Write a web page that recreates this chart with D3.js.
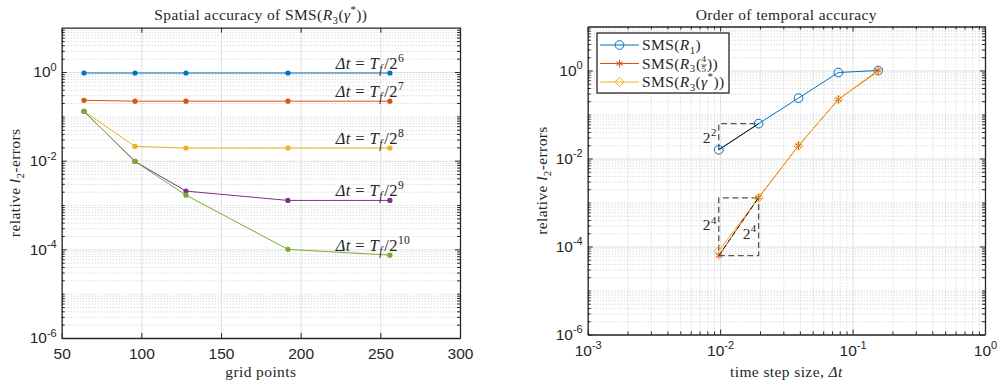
<!DOCTYPE html>
<html>
<head>
<meta charset="utf-8">
<script src="https://cdn.jsdelivr.net/npm/d3@7"></script>
<style>
  body { margin: 0; background: #fff; }
  svg text { fill: #262626; }
  .tick text { font-family: "Liberation Sans", Arial, sans-serif; font-size: 15.5px; }
  .serif { font-family: "Liberation Serif", "DejaVu Serif", serif; letter-spacing: 0.4px; }
</style>
</head>
<body>
<svg id="fig" width="1000" height="384"></svg>
<script>
// ---- left panel: spatial accuracy ----
var gridPts = [64, 96, 128, 192, 256];
var dtExps = ['6', '7', '8', '9', '10'];
var errDt6 = [0.95, 0.95, 0.95, 0.95, 0.95];
var errDt7 = [0.23, 0.22, 0.22, 0.22, 0.22];
var errDt8 = [0.13, 0.021, 0.0193, 0.0193, 0.0193];
var errDt9 = [0.13, 0.0096, 0.00206, 0.00127, 0.00127];
var errDt10 = [0.13, 0.0096, 0.00167, 0.0001, 0.000074];
var xTicksL = [50, 100, 150, 200, 250, 300];
var yTickExps = [-6, -4, -2, 0];

// ---- right panel: temporal accuracy ----
var dtVals = [0.009766, 0.01953, 0.03906, 0.078125, 0.15625];
var errR1 = [0.0158, 0.062, 0.236, 0.90, 1.0];
var errR3a = [0.000062, 0.0013, 0.0195, 0.22, 1.0];
var errR3g = [0.00008, 0.00127, 0.0193, 0.22, 0.95];
var xTickExpsR = [-3, -2, -1, 0];

var colors = ['#0072BD', '#D95319', '#EDB120', '#7E2F8E', '#77AC30'];
var svg = d3.select('#fig');

// minor values for log axes
function logMinor(e0, e1) {
    var out = [];
    for (var e = e0; e < e1; e++) {
        for (var k = 1; k < 10; k++) out.push(k * Math.pow(10, e));
    }
    return out;
}

// rich text with italic / sub / sup parts
function rich(t, parts, fs) {
    var off = 0;
    parts.forEach(function (p) {
        var target = p.sup ? -fs * 0.42 : p.sub ? fs * 0.25 : 0;
        var s = t.append('tspan').attr('dy', target - off).text(p.t);
        if (p.dx) s.attr('dx', p.dx);
        if (p.id) s.attr('id', p.id);
        off = target;
        if (p.i) s.attr('font-style', 'italic');
        if (p.sup || p.sub) s.attr('font-size', p.fs || fs * 0.7);
    });
    return t;
}

function powLabels(axisG, fmt) {
    axisG.selectAll('.tick text').each(function (d) {
        var t = d3.select(this).text(null);
        t.append('tspan').text('10');
        t.append('tspan').attr('dy', -6.5).attr('font-size', 11).text(fmt(d));
    });
}

function grids(g, x, y, opt) {
    var L = x.range()[0], R = x.range()[1], B = y.range()[0], T = y.range()[1];
    function draw(axis, tr, minor) {
        var a = g.append('g').attr('transform', tr).call(axis);
        a.select('.domain').remove();
        a.selectAll('line')
            .attr('stroke', minor ? '#cdcdcd' : '#e0e0e0')
            .attr('stroke-width', 1)
            .attr('stroke-dasharray', minor ? '1,2' : null);
    }
    draw(d3.axisLeft(y).tickValues(opt.yMinor).tickSize(-(R - L)).tickFormat(''), 'translate(' + L + ',0)', true);
    if (opt.xMinor) draw(d3.axisBottom(x).tickValues(opt.xMinor).tickSize(-(B - T)).tickFormat(''), 'translate(0,' + B + ')', true);
    draw(d3.axisLeft(y).tickValues(opt.yTicks).tickSize(-(R - L)).tickFormat(''), 'translate(' + L + ',0)', false);
    draw(d3.axisBottom(x).tickValues(opt.xTicks).tickSize(-(B - T)).tickFormat(''), 'translate(0,' + B + ')', false);
}

function frame(g, x, y, opt) {
    var L = x.range()[0], R = x.range()[1], B = y.range()[0], T = y.range()[1];
    var bot = g.append('g').attr('transform', 'translate(0,' + B + ')')
        .call(d3.axisBottom(x).tickValues(opt.xTicks).tickSizeInner(-5).tickSizeOuter(0).tickPadding(10));
    var left = g.append('g').attr('transform', 'translate(' + L + ',0)')
        .call(d3.axisLeft(y).tickValues(opt.yTicks).tickSizeInner(-5).tickSizeOuter(0).tickPadding(5));
    var top = g.append('g').attr('transform', 'translate(0,' + T + ')')
        .call(d3.axisTop(x).tickValues(opt.xTicks).tickSizeInner(-5).tickSizeOuter(0).tickFormat(''));
    var right = g.append('g').attr('transform', 'translate(' + R + ',0)')
        .call(d3.axisRight(y).tickValues(opt.yTicks).tickSizeInner(-5).tickSizeOuter(0).tickFormat(''));
    // minor ticks
    var mins = [];
    mins.push(g.append('g').attr('transform', 'translate(' + L + ',0)').call(d3.axisLeft(y).tickValues(opt.yMinor).tickSize(-3).tickFormat('')));
    mins.push(g.append('g').attr('transform', 'translate(' + R + ',0)').call(d3.axisRight(y).tickValues(opt.yMinor).tickSize(-3).tickFormat('')));
    if (opt.xMinor) {
        mins.push(g.append('g').attr('transform', 'translate(0,' + B + ')').call(d3.axisBottom(x).tickValues(opt.xMinor).tickSize(-3).tickFormat('')));
        mins.push(g.append('g').attr('transform', 'translate(0,' + T + ')').call(d3.axisTop(x).tickValues(opt.xMinor).tickSize(-3).tickFormat('')));
    }
    mins.forEach(function (m) { m.select('.domain').remove(); });
    [bot, left, top, right].concat(mins).forEach(function (a) {
        a.selectAll('line').attr('stroke', '#262626');
        a.select('.domain').attr('stroke', '#262626').attr('stroke-width', 1.3);
    });
    return { bot: bot, left: left };
}

var FS = 15.5;  // serif text size
var dtLabel = function (e) {
    return [{ t: 'Δt', i: 1 }, { t: '\u2005=\u2005' }, { t: 'T', i: 1 }, { t: 'f', i: 1, sub: 1 }, { t: '/2', dx: 1.5 }, { t: e, sup: 1 }];
};

// ================= LEFT PANEL =================
var xL = d3.scaleLinear().domain([50, 300]).range([61.7, 460]);
var yL = d3.scaleLog().domain([1e-6, 10]).range([338, 27.7]);
var yTickVals = yTickExps.map(function (e) { return Math.pow(10, e); });
var yMinorL = logMinor(-6, 1).filter(function (v) { return yTickExps.indexOf(Math.round(Math.log10(v) * 1000) / 1000) < 0; });
var gL = svg.append('g');
grids(gL, xL, yL, { xTicks: xTicksL, yTicks: yTickVals, yMinor: yMinorL });

var seriesL = [errDt6, errDt7, errDt8, errDt9, errDt10];
var lineL = d3.line().x(function (d) { return xL(d[0]); }).y(function (d) { return yL(d[1]); });
seriesL.forEach(function (s, i) {
    var pts = gridPts.map(function (gp, j) { return [gp, s[j]]; });
    gL.append('path').attr('d', lineL(pts)).attr('fill', 'none').attr('stroke', colors[i]).attr('stroke-width', 1);
    gL.selectAll(null).data(pts).join('circle')
        .attr('cx', function (d) { return xL(d[0]); })
        .attr('cy', function (d) { return yL(d[1]); })
        .attr('r', 2.6).attr('fill', colors[i]);
    var last = pts[pts.length - 1];
    gL.append('text').attr('class', 'serif').attr('font-size', 16.5)
        .attr('x', xL(222)).attr('y', yL(last[1]) - 4.5)
        .call(rich, dtLabel(dtExps[i]), 16.5);
});

var axL = frame(gL, xL, yL, { xTicks: xTicksL, yTicks: yTickVals, yMinor: yMinorL });
powLabels(axL.left, function (d) { return String(Math.round(Math.log10(d))); });

gL.append('text').attr('class', 'serif').attr('font-size', FS)
    .attr('x', (61.7 + 460) / 2).attr('y', 20).attr('text-anchor', 'middle')
    .call(rich, [{ t: 'Spatial accuracy of SMS(' }, { t: 'R', i: 1 }, { t: '3', sub: 1 }, { t: '(' }, { t: 'γ', i: 1 }, { t: '*', sup: 1 }, { t: '))' }], FS);
gL.append('text').attr('class', 'serif').attr('font-size', FS)
    .attr('x', (61.7 + 460) / 2).attr('y', 377).attr('text-anchor', 'middle').text('grid points');
gL.append('text').attr('class', 'serif').attr('font-size', FS)
    .attr('transform', 'translate(20,' + (338 + 27.7) / 2 + ') rotate(-90)').attr('text-anchor', 'middle')
    .call(rich, [{ t: 'relative ' }, { t: 'l', i: 1 }, { t: '2', sub: 1 }, { t: '-errors' }], FS);

// ================= RIGHT PANEL =================
var xR = d3.scaleLog().domain([1e-3, 1]).range([587.7, 985]);
var yR = d3.scaleLog().domain([1e-6, 10]).range([334.5, 26.5]);
var xTickValsR = xTickExpsR.map(function (e) { return Math.pow(10, e); });
var xMinorR = logMinor(-3, 0).filter(function (v, i) { return i % 9 !== 0; });
var gR = svg.append('g');
grids(gR, xR, yR, { xTicks: xTickValsR, xMinor: xMinorR, yTicks: yTickVals, yMinor: yMinorL });

var lineR = d3.line().x(function (d) { return xR(d[0]); }).y(function (d) { return yR(d[1]); });
var seriesR = [errR1, errR3a, errR3g];
var symbols = [d3.symbolCircle, d3.symbolAsterisk, d3.symbolDiamond2];
var symSize = [60, 40, 50];

// slope triangles
function pt(s, j) { return [xR(dtVals[j]), yR(s[j])]; }
var dash = { stroke: '#555', 'stroke-width': 1.3, 'stroke-dasharray': '6,3.5', fill: 'none' };
function dpath(pts, style) {
    var p = gR.append('path').attr('d', d3.line()(pts));
    Object.keys(style).forEach(function (k) { p.attr(k, style[k]); });
    return p;
}
var b0 = pt(errR1, 0), b1 = pt(errR1, 1);
dpath([b0, [b0[0], b1[1]], b1], dash);
var y0 = pt(errR3g, 0), y1 = pt(errR3g, 1);
dpath([y0, [y0[0], y1[1]], y1], dash);
var o0 = pt(errR3a, 0), o1 = pt(errR3a, 1);
dpath([o0, [o1[0], o0[1]], o1], dash);

seriesR.forEach(function (s, i) {
    var pts = dtVals.map(function (dt, j) { return [dt, s[j]]; });
    gR.append('path').attr('d', lineR(pts)).attr('fill', 'none').attr('stroke', colors[i]).attr('stroke-width', 1);
    gR.selectAll(null).data(pts).join('path')
        .attr('transform', function (d) { return 'translate(' + xR(d[0]) + ',' + yR(d[1]) + ')'; })
        .attr('d', d3.symbol(symbols[i], symSize[i]))
        .attr('fill', 'none').attr('stroke', colors[i]).attr('stroke-width', 1);
});

// hypotenuses
dpath([b0, b1], { stroke: '#1a1a1a', 'stroke-width': 1, fill: 'none' });
dpath([o0, o1], { stroke: '#1a1a1a', 'stroke-width': 1, 'stroke-dasharray': '5,3', fill: 'none' });

function slopeLabel(x, y, e) {
    gR.append('text').attr('class', 'serif').attr('font-size', FS).attr('fill', '#444')
        .attr('x', x).attr('y', y).attr('text-anchor', 'end')
        .call(rich, [{ t: '2' }, { t: e, sup: 1 }], FS);
}
slopeLabel(b0[0] - 2, (b0[1] + b1[1]) / 2 + 6, '2');
slopeLabel(y0[0] - 2, (y0[1] + y1[1]) / 2 + 6, '4');
slopeLabel(o1[0] - 2, (o0[1] + o1[1]) / 2 + 12, '4');

var axR = frame(gR, xR, yR, { xTicks: xTickValsR, xMinor: xMinorR, yTicks: yTickVals, yMinor: yMinorL });
powLabels(axR.left, function (d) { return String(Math.round(Math.log10(d))); });
powLabels(axR.bot, function (d) { return String(Math.round(Math.log10(d))); });

// legend
var lg = gR.append('g');
lg.append('rect').attr('x', 597).attr('y', 33).attr('width', 132).attr('height', 60)
    .attr('fill', '#fff').attr('stroke', '#262626').attr('stroke-width', 1.3);
var legParts = [
    [{ t: 'SMS(' }, { t: 'R', i: 1 }, { t: '1', sub: 1 }, { t: ')' }],
    [{ t: 'SMS(' }, { t: 'R', i: 1 }, { t: '3', sub: 1 }, { t: '(', dx: 0.5 }, { t: '4', sup: 1, fs: 9, id: 'fracNum' }, { t: '5', sub: 1, fs: 9, dx: -4.9 }, { t: '))', dx: 0.5 }],
    [{ t: 'SMS(' }, { t: 'R', i: 1 }, { t: '3', sub: 1 }, { t: '(' }, { t: 'γ', i: 1 }, { t: '*', sup: 1 }, { t: '))' }]
];
var legY = [45, 63.5, 82];
legParts.forEach(function (parts, i) {
    var ly = legY[i];
    lg.append('line').attr('x1', 600).attr('x2', 639).attr('y1', ly).attr('y2', ly).attr('stroke', colors[i]);
    lg.append('path').attr('transform', 'translate(619.5,' + ly + ')')
        .attr('d', d3.symbol(symbols[i], symSize[i])).attr('fill', 'none').attr('stroke', colors[i]);
    lg.append('text').attr('class', 'serif').attr('font-size', FS).attr('x', 642).attr('y', ly + 5)
        .call(rich, parts, FS);
});
// fraction bar for 4/5
var num = document.getElementById('fracNum');
if (num) {
    var p0 = num.getStartPositionOfChar(0), w = num.getComputedTextLength();
    lg.append('line').attr('x1', p0.x - 0.3).attr('x2', p0.x + w + 0.3)
        .attr('y1', legY[1] + 1.5).attr('y2', legY[1] + 1.5).attr('stroke', '#262626').attr('stroke-width', 0.7);
}

gR.append('text').attr('class', 'serif').attr('font-size', FS)
    .attr('x', (587.7 + 985) / 2).attr('y', 20).attr('text-anchor', 'middle').text('Order of temporal accuracy');
gR.append('text').attr('class', 'serif').attr('font-size', FS)
    .attr('x', (587.7 + 985) / 2).attr('y', 377).attr('text-anchor', 'middle')
    .call(rich, [{ t: 'time step size, ' }, { t: 'Δt', i: 1 }], FS);
gR.append('text').attr('class', 'serif').attr('font-size', FS)
    .attr('transform', 'translate(547,' + (334.5 + 26.5) / 2 + ') rotate(-90)').attr('text-anchor', 'middle')
    .call(rich, [{ t: 'relative ' }, { t: 'l', i: 1 }, { t: '2', sub: 1 }, { t: '-errors' }], FS);
</script>
</body>
</html>
